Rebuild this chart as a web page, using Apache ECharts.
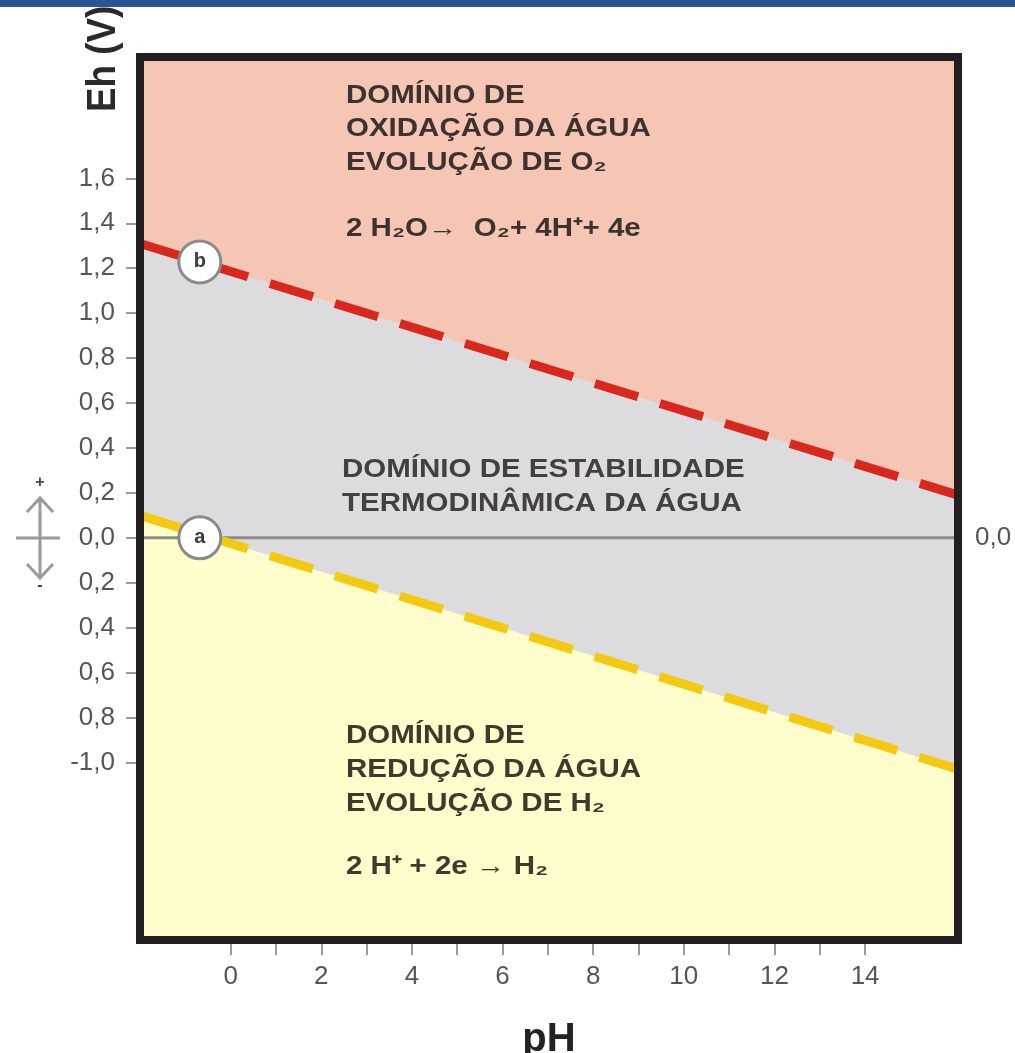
<!DOCTYPE html>
<html>
<head>
<meta charset="utf-8">
<script src="https://cdn.jsdelivr.net/npm/echarts@6/dist/echarts.min.js"></script>
<style>html,body{margin:0;padding:0;background:#fff}#c{width:1015px;height:1053px}</style>
</head>
<body>
<div id="c"></div>
<script>
// ---- data ----
const xTickValues = [0,1,2,3,4,5,6,7,8,9,10,11,12,13,14];
const xLabelValues = [0,2,4,6,8,10,12,14];
const yTickValues = [-1.0,-0.8,-0.6,-0.4,-0.2,0.0,0.2,0.4,0.6,0.8,1.0,1.2,1.4,1.6];
const yTickLabels = ['-1,0','0,8','0,6','0,4','0,2','0,0','0,2','0,4','0,6','0,8','1,0','1,2','1,4','1,6'];
const xRange = [-2, 16.05];
const yRange = [-1.79, 2.14];
// line b: O2/H2O limit, line a: H2O/H2 limit
const lineB_pH = [-2, 16.05];
const lineB_Eh = [1.31, 0.19];
const lineA_pH = [-2, 16.05];
const lineA_Eh = [0.10, -1.03];
const zero_pH = [-2, 16.05];
const zero_Eh = [0, 0];
const markerNames = ['a', 'b'];
const markerPH = [-0.68, -0.68];
const markerEh = [0.0, 1.228];

const pairs = (xs, ys) => xs.map((x, i) => [x, ys[i]]);
const lbl = v => {
  const i = yTickValues.findIndex(t => Math.abs(t - v) < 1e-6);
  return i >= 0 ? yTickLabels[i] : '';
};

const chart = echarts.init(document.getElementById('c'), null, {renderer: 'canvas'});
const FONT = '"Liberation Sans", Arial, sans-serif';
const SX = 1.18;
function t(x, y, s, opts) {
  opts = opts || {};
  return {
    type: 'text', x: x, y: y, scaleX: opts.sx || SX, z: 50,
    style: {
      text: s,
      font: (opts.w || 'bold') + ' ' + (opts.size || 25) + 'px ' + FONT,
      fill: opts.fill || '#3d3230',
      align: 'left', verticalAlign: 'middle',
      textAlign: 'left', textVerticalAlign: 'middle'
    }
  };
}

const option = {
  animation: false,
  backgroundColor: '#ffffff',
  grid: {left: 140, top: 57, width: 818, height: 883, show: true,
         outerBoundsMode: 'none', containLabel: false,
         backgroundColor: '#f5c6b4', borderWidth: 0},
  xAxis: {
    type: 'value', min: xRange[0], max: xRange[1],
    name: 'pH', nameLocation: 'middle', nameGap: 80,
    nameTextStyle: {fontFamily: FONT, fontWeight: 'bold', fontSize: 40, color: '#222'},
    axisLine: {show: false, onZero: false},
    splitLine: {show: false},
    axisTick: {show: true, inside: false, length: 15, customValues: xTickValues,
               lineStyle: {color: '#9a9a9a', width: 2}},
    axisLabel: {customValues: xLabelValues, margin: 24, fontFamily: FONT, fontSize: 26, color: '#555'}
  },
  yAxis: [{
    type: 'value', min: yRange[0], max: yRange[1],
    axisLine: {show: false, onZero: false},
    splitLine: {show: false},
    axisTick: {show: true, inside: false, length: 14, customValues: yTickValues,
               lineStyle: {color: '#9a9a9a', width: 2}},
    axisLabel: {customValues: yTickValues, margin: 25, fontFamily: FONT, fontSize: 26, color: '#555',
                formatter: v => lbl(v)}
  }, {
    type: 'value', position: 'right', min: yRange[0], max: yRange[1],
    axisLine: {show: false, onZero: false}, splitLine: {show: false}, axisTick: {show: false},
    axisLabel: {customValues: [0], margin: 17, fontFamily: FONT, fontSize: 26, color: '#555',
                formatter: () => '0,0'}
  }],
  series: [
    {type: 'line', name: 'areaB', data: pairs(lineB_pH, lineB_Eh), symbol: 'none',
     lineStyle: {width: 0}, areaStyle: {origin: 'start', color: '#dcdbdd', opacity: 1}, z: 2, silent: true},
    {type: 'line', name: 'areaA', data: pairs(lineA_pH, lineA_Eh), symbol: 'none',
     lineStyle: {width: 0}, areaStyle: {origin: 'start', color: '#fefdcb', opacity: 1}, z: 3, silent: true},
    {type: 'line', name: 'zero', data: pairs(zero_pH, zero_Eh), symbol: 'none',
     lineStyle: {width: 3, color: '#8c8c8c'}, z: 4, silent: true},
    {type: 'line', name: 'b', data: pairs(lineB_pH, lineB_Eh), symbol: 'none',
     lineStyle: {width: 9, color: '#d8281e', type: [45, 23], cap: 'butt'}, z: 5, silent: true},
    {type: 'line', name: 'a', data: pairs(lineA_pH, lineA_Eh), symbol: 'none',
     lineStyle: {width: 9, color: '#f3c912', type: [45, 23], cap: 'butt'}, z: 5, silent: true},
    {type: 'scatter', name: 'markers', data: markerNames.map((n, i) => ({name: n, value: [markerPH[i], markerEh[i]]})),
     symbol: 'circle', symbolSize: 42, z: 6,
     itemStyle: {color: '#ffffff', borderColor: '#8a8a8a', borderWidth: 3, opacity: 1},
     label: {show: true, position: 'inside', formatter: p => p.name, fontFamily: FONT,
             fontWeight: 'bold', fontSize: 20, color: '#3a3a3a'}}
  ],
  graphic: [
    // plot frame
    {type: 'rect', z: 100, shape: {x: 140, y: 57, width: 818, height: 883},
     style: {fill: null, stroke: '#231f20', lineWidth: 8}},
    // top blue band
    {type: 'rect', z: 120, shape: {x: 0, y: 0, width: 1015, height: 7}, style: {fill: '#2e5496'}},
    // y axis name
    {type: 'text', x: 104, y: 112, rotation: Math.PI / 2, z: 110, scaleX: 0.92,
     style: {text: 'Eh (V)', font: 'bold 40px ' + FONT, fill: '#2a2a2a',
             align: 'left', verticalAlign: 'middle', textAlign: 'left', textVerticalAlign: 'middle'}},
    // oxidation domain
    t(346, 96, 'DOMÍNIO DE'),
    t(346, 129, 'OXIDAÇÃO DA ÁGUA'),
    t(346, 163, 'EVOLUÇÃO DE O₂'),
    t(346, 229, '2 H₂O→  O₂+ 4H⁺+ 4e'),
    // stability domain
    t(342, 470, 'DOMÍNIO DE ESTABILIDADE', {fill: '#444040'}),
    t(342, 504, 'TERMODINÂMICA DA ÁGUA', {fill: '#444040'}),
    // reduction domain
    t(346, 736, 'DOMÍNIO DE', {fill: '#3e3b2c'}),
    t(346, 770, 'REDUÇÃO DA ÁGUA', {fill: '#3e3b2c'}),
    t(346, 804, 'EVOLUÇÃO DE H₂', {fill: '#3e3b2c'}),
    t(346, 867, '2 H⁺ + 2e → H₂', {fill: '#3e3b2c'}),
    // +/- arrow on the left
    {type: 'line', z: 60, shape: {x1: 16, y1: 538, x2: 60, y2: 538}, style: {stroke: '#9a9a9a', lineWidth: 3}},
    {type: 'line', z: 60, shape: {x1: 40, y1: 498, x2: 40, y2: 578}, style: {stroke: '#9a9a9a', lineWidth: 3}},
    {type: 'polyline', z: 60, shape: {points: [[27, 512], [40, 498], [53, 512]]}, style: {stroke: '#9a9a9a', lineWidth: 3, fill: null}},
    {type: 'polyline', z: 60, shape: {points: [[27, 564], [40, 578], [53, 564]]}, style: {stroke: '#9a9a9a', lineWidth: 3, fill: null}},
    {type: 'text', x: 40, y: 483, z: 60, style: {text: '+', font: 'bold 16px ' + FONT, fill: '#444',
      align: 'center', verticalAlign: 'middle', textAlign: 'center', textVerticalAlign: 'middle'}},
    {type: 'text', x: 40, y: 586, z: 60, style: {text: '-', font: 'bold 16px ' + FONT, fill: '#444',
      align: 'center', verticalAlign: 'middle', textAlign: 'center', textVerticalAlign: 'middle'}}
  ]
};
chart.setOption(option);
</script>
</body>
</html>
